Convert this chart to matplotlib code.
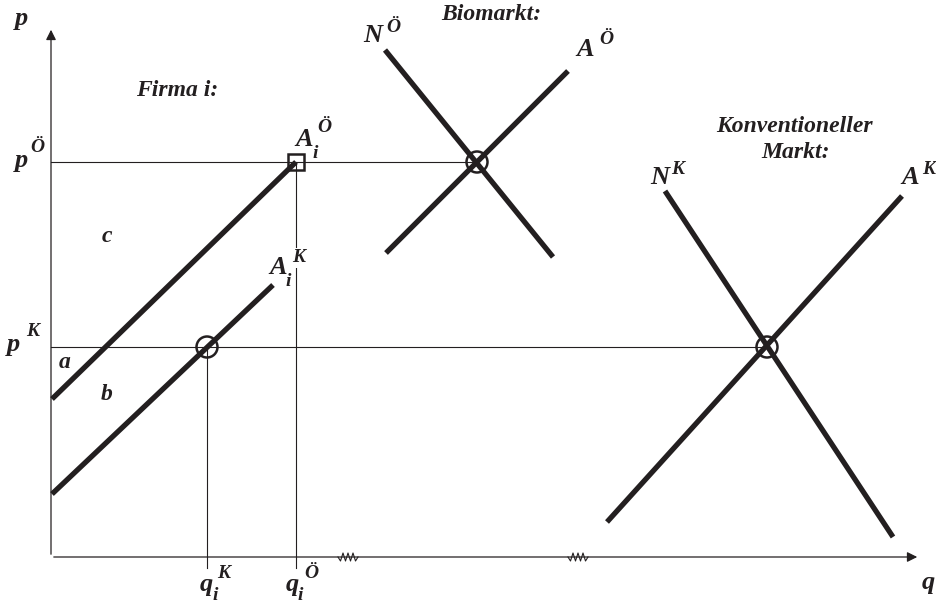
import numpy as np
import matplotlib
matplotlib.use('Agg')
import matplotlib.pyplot as plt
from matplotlib.patches import Circle, Rectangle

# Koordinaten in Bildpunkten (x nach rechts, y nach unten)
achse_x0 = 51
achse_y0 = 557
y_pfeil_spitze = 27
x_pfeil_spitze = 920

p_oeko = 162
p_konv = 347
q_i_konv = 207
q_i_oeko = 296

# Angebotskurven der Firma i
firma_A_oeko = [(52, 399), (296, 162)]
firma_A_konv = [(52, 494), (273, 285)]

# Biomarkt
bio_N = [(385, 50), (553, 257)]
bio_A = [(386, 253), (568, 71)]
bio_gg = (477, 162)

# Konventioneller Markt
konv_N = [(665, 191), (893, 537)]
konv_A = [(607, 522), (902, 196)]
konv_gg = (767, 347)

# Achsenbrueche
brueche = [338, 568]

farbe = '#231f20'
schrift = dict(family='Liberation Serif', weight='bold', style='italic', color=farbe)

fig = plt.figure(figsize=(9.37, 6.04), dpi=100)
ax = fig.add_axes([0, 0, 1, 1])
ax.set_xlim(0, 937)
ax.set_ylim(604, 0)
ax.axis('off')

# Achsen
ax.annotate('', xy=(achse_x0, y_pfeil_spitze), xytext=(achse_x0, achse_y0),
            arrowprops=dict(arrowstyle='-|>', color=farbe, lw=0.9, mutation_scale=15))
ax.annotate('', xy=(x_pfeil_spitze, achse_y0), xytext=(achse_x0, achse_y0),
            arrowprops=dict(arrowstyle='-|>', color=farbe, lw=0.9, mutation_scale=15))

# Achsenbrueche (kleine Zickzacklinien)
for b in brueche:
    zx = b + np.linspace(0, 20, 9)
    zy = achse_y0 + np.array([0, 4, -4, 4, -4, 4, -4, 4, 0])
    ax.plot([b - 1, b + 21], [achse_y0, achse_y0], color='white', lw=2, zorder=2)
    ax.plot(zx, zy, color=farbe, lw=0.8, zorder=3)

# Hilfslinien
ax.plot([achse_x0, bio_gg[0]], [p_oeko, p_oeko], color=farbe, lw=0.8)
ax.plot([achse_x0, konv_gg[0]], [p_konv, p_konv], color=farbe, lw=0.8)
ax.plot([q_i_konv, q_i_konv], [p_konv, 568], color=farbe, lw=0.8)
ax.plot([q_i_oeko, q_i_oeko], [p_oeko, 568], color=farbe, lw=0.8)

# dicke Kurven
for seg in [firma_A_oeko, firma_A_konv, bio_N, bio_A, konv_N, konv_A]:
    xs = [s[0] for s in seg]
    ys = [s[1] for s in seg]
    ax.plot(xs, ys, color=farbe, lw=3.8, solid_capstyle='butt', zorder=4)

# Markierungen
ax.add_patch(Rectangle((q_i_oeko - 8, p_oeko - 8), 16, 16, fill=False, ec=farbe, lw=1.8, zorder=5))
for c in [(q_i_konv, p_konv), bio_gg, konv_gg]:
    ax.add_patch(Circle(c, 10.5, fill=False, ec=farbe, lw=1.8, zorder=5))

gross = 19
hoch = 14

def txt(x, y, s, size=gross, **kw):
    ax.text(x, y, s, fontsize=size, ha='center', va='center', **schrift, **kw)

# Achsenbeschriftungen
txt(22, 19, 'p')
txt(22, 160, 'p')
txt(37, 148, 'Ö', hoch)
txt(14, 345, 'p')
txt(33, 332, 'K', hoch)
txt(928, 582, 'q')

txt(206, 584, 'q')
txt(215, 595, 'i', hoch)
txt(224, 573, 'K', hoch)
txt(292, 584, 'q')
txt(300, 595, 'i', hoch)
txt(311, 573, 'Ö', hoch)

# Firma i
txt(177, 90, 'Firma i:', 17)
txt(304, 139, 'A')
txt(315, 154, 'i', hoch)
txt(324, 128, 'Ö', hoch)
txt(278, 267, 'A')
txt(288, 281, 'i', hoch)
txt(299, 258, 'K', hoch,
    bbox=dict(boxstyle='square,pad=0.1', fc='white', ec='none'))
txt(107, 236, 'c', 17)
txt(65, 363, 'a', 17)
txt(107, 395, 'b', 17)

# Biomarkt
txt(491, 14, 'Biomarkt:', 17)
txt(373, 36, 'N')
txt(393, 28, 'Ö', hoch)
txt(585, 50, 'A')
txt(606, 40, 'Ö', hoch)

# Konventioneller Markt
txt(794, 126, 'Konventioneller', 17)
txt(796, 152, 'Markt:', 17)
txt(660, 177, 'N')
txt(678, 170, 'K', hoch)
txt(910, 178, 'A')
txt(929, 170, 'K', hoch)

fig.savefig('out.png', dpi=100)
